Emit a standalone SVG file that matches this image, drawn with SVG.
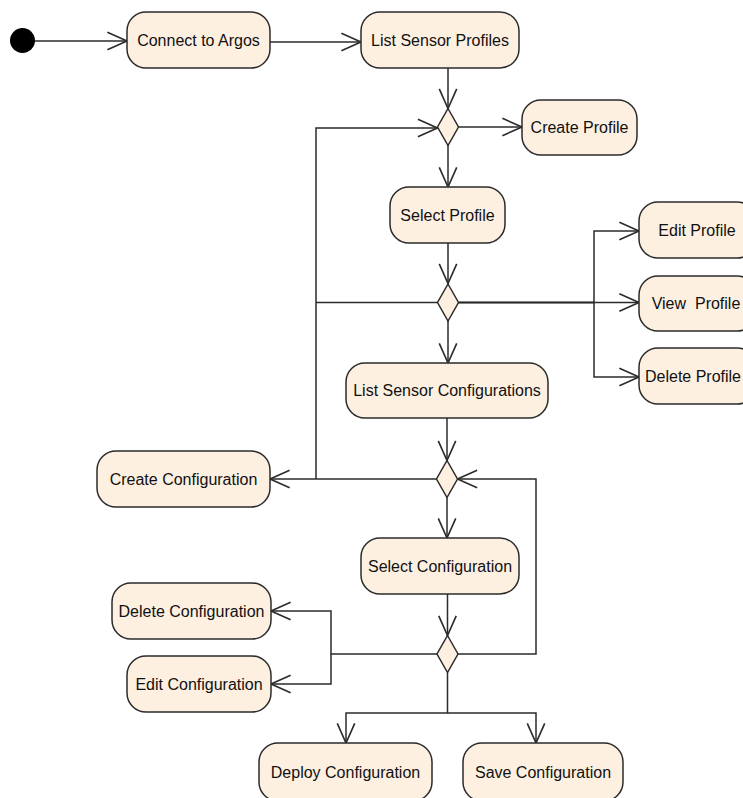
<svg xmlns="http://www.w3.org/2000/svg" width="743" height="798" viewBox="0 0 743 798">
  <style>
    .act { fill: #fdf0e1; stroke: #2b2b2b; stroke-width: 1.5; }
    .dec { fill: #fdf0e1; stroke: #2b2b2b; stroke-width: 1.5; }
    .lbl { font-family: "Liberation Sans", Arial, sans-serif; font-size: 16px; fill: #111; text-anchor: middle; white-space: pre; }
    .edge { fill: none; stroke: #2b2b2b; stroke-width: 1.5; }
  </style>
  <defs>
    <marker id="open" markerUnits="userSpaceOnUse" markerWidth="24" markerHeight="24" viewBox="-20 -10 22 20" refX="0" refY="0" orient="auto">
      <path d="M-18,-8 L0,0 L-18,8" fill="none" stroke="#2b2b2b" stroke-width="1.5"/>
    </marker>
  </defs>
  <rect width="743" height="798" fill="#ffffff"/>

  <!-- connectors -->
  <g id="connectors">
    <path class="edge" d="M35,41 H127" marker-end="url(#open)"/>
    <path class="edge" d="M270,42 H361" marker-end="url(#open)"/>
    <path class="edge" d="M448,68 V108.5" marker-end="url(#open)"/>
    <path class="edge" d="M458.5,127 H522" marker-end="url(#open)"/>
    <path class="edge" d="M448,145.5 V187" marker-end="url(#open)"/>
    <path class="edge" d="M448,243 V283.5" marker-end="url(#open)"/>
    <!-- loops back to the first decision -->
    <path class="edge" d="M437.5,302.5 H316"/>
    <path class="edge" d="M316,479 V128 H437.5" marker-end="url(#open)"/>
    <!-- profile actions -->
    <path class="edge" d="M458.5,302.5 H594 V231 H639" marker-end="url(#open)"/>
    <path class="edge" d="M458.5,302.5 H639" marker-end="url(#open)"/>
    <path class="edge" d="M458.5,302.5 H594 V377 H639" marker-end="url(#open)"/>
    <path class="edge" d="M448,321 V363" marker-end="url(#open)"/>
    <path class="edge" d="M447,418 V460.5" marker-end="url(#open)"/>
    <path class="edge" d="M437,479 H270" marker-end="url(#open)"/>
    <path class="edge" d="M447,497.5 V538" marker-end="url(#open)"/>
    <path class="edge" d="M447.5,594 V635.5" marker-end="url(#open)"/>
    <!-- loop back to the configuration decision -->
    <path class="edge" d="M458,654 H536 V479 H457.5" marker-end="url(#open)"/>
    <!-- configuration actions -->
    <path class="edge" d="M437,654 H331 V611 H271" marker-end="url(#open)"/>
    <path class="edge" d="M331,654 V684 H271" marker-end="url(#open)"/>
    <path class="edge" d="M447.5,672.5 V713 H346 V743" marker-end="url(#open)"/>
    <path class="edge" d="M447.5,713 H536 V743" marker-end="url(#open)"/>
  </g>

  <g id="start">
    <circle cx="22.5" cy="40.5" r="12.5" fill="#000"/>
  </g>

  <g id="connect">
    <rect class="act" x="127" y="12" width="143" height="56" rx="19"/>
    <text class="lbl" x="198.5" y="46">Connect to Argos</text>
  </g>
  <g id="list-profiles">
    <rect class="act" x="361" y="12" width="158" height="56" rx="19"/>
    <text class="lbl" x="440" y="46">List Sensor Profiles</text>
  </g>
  <g id="decision-profiles">
    <path class="dec" d="M448,108.5 L458.5,127 L448,145.5 L437.5,127 Z"/>
  </g>
  <g id="create-profile">
    <rect class="act" x="522" y="100" width="115" height="55" rx="19"/>
    <text class="lbl" x="579.5" y="133">Create Profile</text>
  </g>
  <g id="select-profile">
    <rect class="act" x="390" y="187" width="115" height="56" rx="19"/>
    <text class="lbl" x="447.5" y="221">Select Profile</text>
  </g>
  <g id="decision-profile-action">
    <path class="dec" d="M448,284 L458.5,302.5 L448,321 L437.5,302.5 Z"/>
  </g>
  <g id="edit-profile">
    <rect class="act" x="639" y="202" width="117" height="56" rx="19"/>
    <text class="lbl" x="697" y="236">Edit Profile</text>
  </g>
  <g id="view-profile">
    <rect class="act" x="639" y="276" width="117" height="55" rx="19"/>
    <text class="lbl" x="696" y="309">View  Profile</text>
  </g>
  <g id="delete-profile">
    <rect class="act" x="639" y="348" width="117" height="56" rx="19"/>
    <text class="lbl" x="693" y="382">Delete Profile</text>
  </g>
  <g id="list-configurations">
    <rect class="act" x="346" y="363" width="202" height="55" rx="19"/>
    <text class="lbl" x="447" y="396">List Sensor Configurations</text>
  </g>
  <g id="decision-configurations">
    <path class="dec" d="M447,460.5 L457.5,479 L447,497.5 L436.5,479 Z"/>
  </g>
  <g id="create-configuration">
    <rect class="act" x="97" y="451" width="173" height="56" rx="19"/>
    <text class="lbl" x="183.5" y="485">Create Configuration</text>
  </g>
  <g id="select-configuration">
    <rect class="act" x="361" y="538" width="158" height="56" rx="19"/>
    <text class="lbl" x="440" y="572">Select Configuration</text>
  </g>
  <g id="decision-configuration-action">
    <path class="dec" d="M447.5,635.5 L458,654 L447.5,672.5 L437,654 Z"/>
  </g>
  <g id="delete-configuration">
    <rect class="act" x="112" y="583" width="159" height="56" rx="19"/>
    <text class="lbl" x="191.5" y="617">Delete Configuration</text>
  </g>
  <g id="edit-configuration">
    <rect class="act" x="127" y="656" width="144" height="56" rx="19"/>
    <text class="lbl" x="199" y="690">Edit Configuration</text>
  </g>
  <g id="deploy-configuration">
    <rect class="act" x="259" y="743" width="173" height="58" rx="19"/>
    <text class="lbl" x="345.5" y="778">Deploy Configuration</text>
  </g>
  <g id="save-configuration">
    <rect class="act" x="463" y="743" width="160" height="58" rx="19"/>
    <text class="lbl" x="543" y="778">Save Configuration</text>
  </g>
</svg>
